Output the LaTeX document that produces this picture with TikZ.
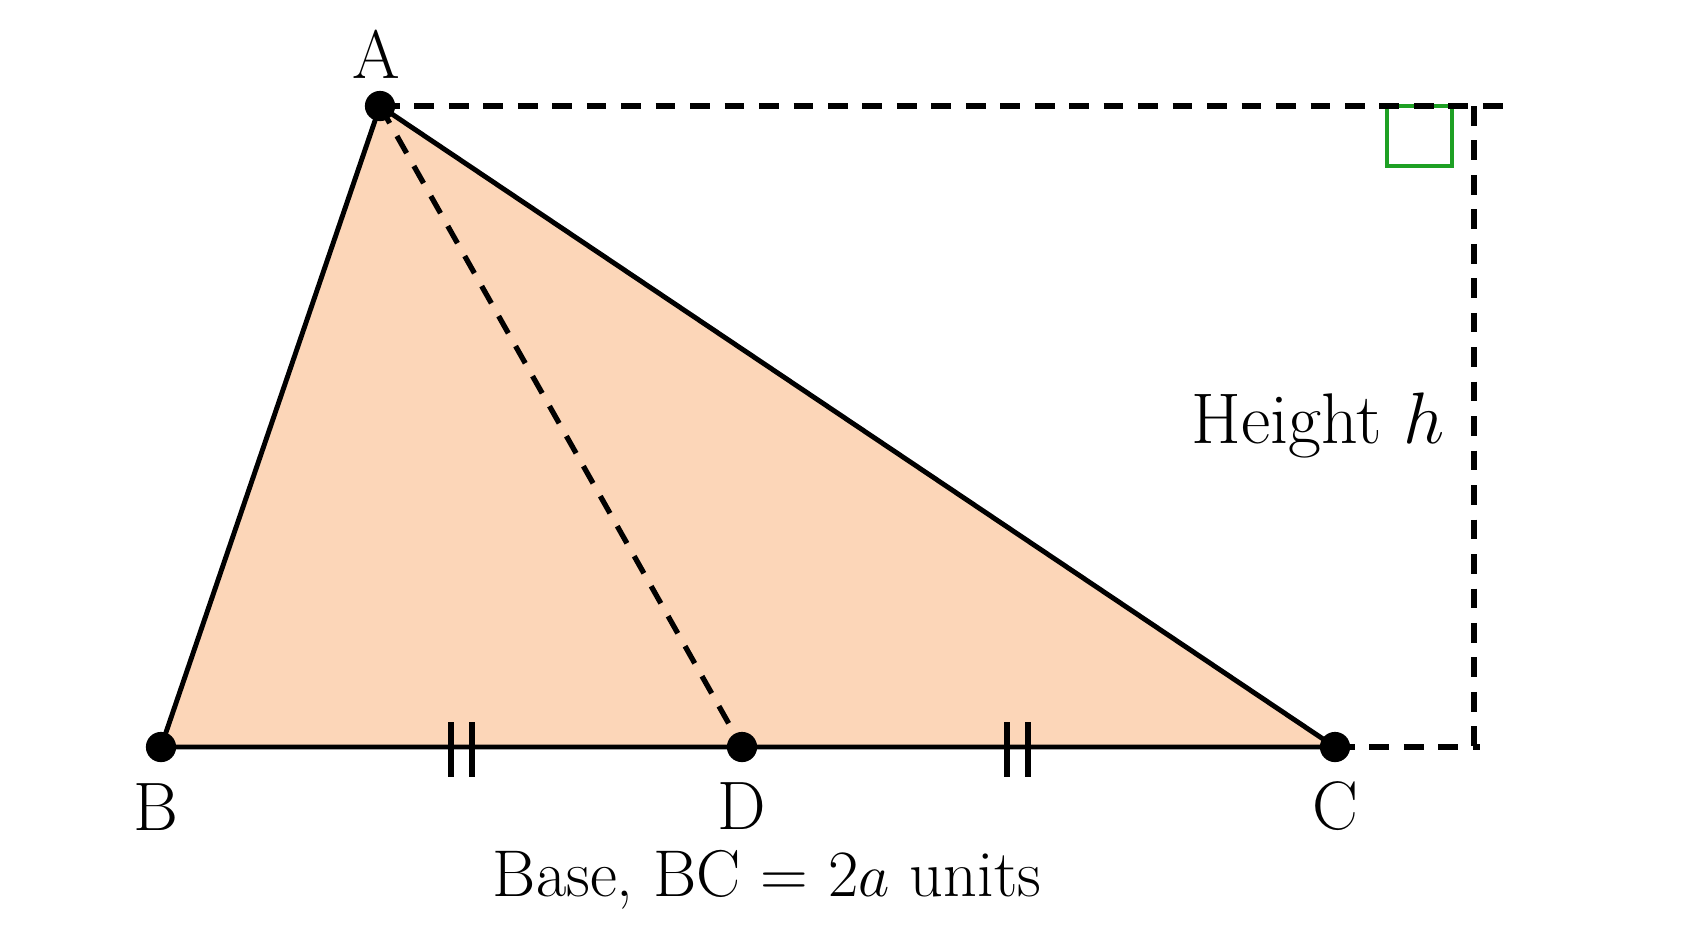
\documentclass[tikz,border=0pt]{standalone}
\definecolor{peach}{RGB}{252,214,184}
\definecolor{sqgreen}{RGB}{30,160,36}
\begin{document}
\begin{tikzpicture}[x=0.01cm,y=-0.01cm,
  edge/.style={line width=1.4pt, line join=round},
  dashline/.style={line width=1.5pt, dash pattern=on 5.6pt off 4.2pt},
  dot/.style={circle, fill=black, inner sep=0pt, minimum size=8.6pt},
  lbl/.style={font=\fontsize{19.5}{22}\selectfont, anchor=base, inner sep=0pt},
  tickmark/.style={line width=1.7pt},
  rightsq/.style={draw=sqgreen, line width=1.4pt}]
\useasboundingbox (0,0) rectangle (1688,932);
\coordinate (A) at (380,106);
\coordinate (B) at (161,747);
\coordinate (D) at (742,747);
\coordinate (C) at (1335,747);
\coordinate (T) at (1505,106);
\coordinate (TR) at (1474,106);
\coordinate (BR) at (1474,747);
\coordinate (CR) at (1480,747);
% fill
\fill[peach] (A) -- (B) -- (C) -- cycle;
% right-angle square
\draw[rightsq] (1387,106) rectangle (1452,166);
% dashed lines
\draw[dashline] (A) -- (D);
\draw[dashline] (A) -- (T);
\draw[dashline] (TR) -- (BR);
\draw[dashline] (C) -- (CR);
% triangle
\draw[edge] (B) -- (A) -- (C) -- cycle;
% tick marks
\draw[tickmark] (451,722) -- (451,777) (472,722) -- (472,777);
\draw[tickmark] (1007,722) -- (1007,777) (1028,722) -- (1028,777);
% dots
\node[dot] (dA) at (A) {};
\node[dot] (dB) at (B) {};
\node[dot] (dD) at (D) {};
\node[dot] (dC) at (C) {};
% labels
\node[lbl] (lA) at (376,78) {A};
\node[lbl] (lB) at (156,830) {B};
\node[lbl] (lD) at (742,829) {D};
\node[lbl] (lC) at (1335,829) {C};
\node[lbl, font=\fontsize{20.4}{24}\selectfont] (lh) at (1318,443) {Height $h$};
\node[lbl, font=\fontsize{18.8}{22}\selectfont] (lbase) at (767,896) {Base, BC = 2$a$ units};
\end{tikzpicture}
\end{document}
